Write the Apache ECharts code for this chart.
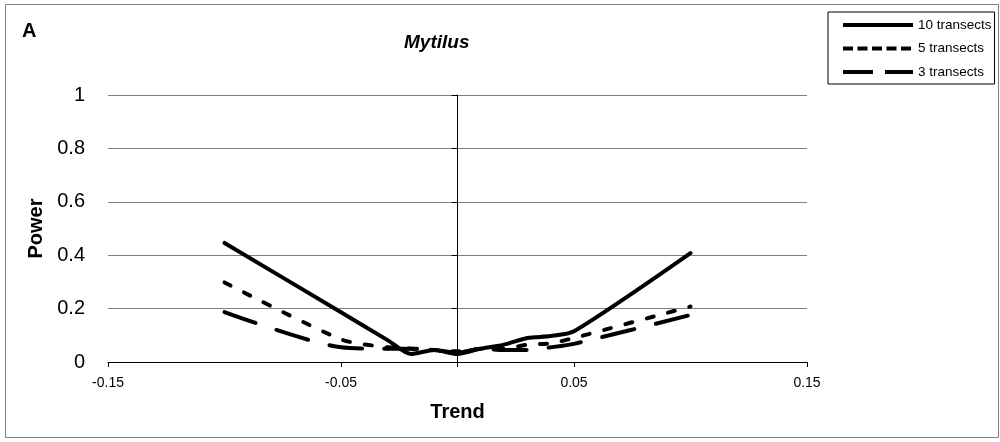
<!DOCTYPE html>
<html><head><meta charset="utf-8">
<script src="https://cdn.jsdelivr.net/npm/echarts@6/dist/echarts.min.js"></script>
<style>html,body{margin:0;padding:0;background:#fff}#c{width:1000px;height:442px}</style>
</head><body><div id="c"></div>
<script>
const trendValues = [-0.1, -0.05, -0.03, -0.02, -0.01, 0, 0.01, 0.02, 0.03, 0.04, 0.05, 0.1];
const power10 = [0.446, 0.186, 0.082, 0.03, 0.045, 0.03, 0.05, 0.065, 0.09, 0.097, 0.115, 0.408];
const power5  = [0.298, 0.085, 0.055, 0.05, 0.045, 0.04, 0.05, 0.05, 0.065, 0.07, 0.09, 0.208];
const power3  = [0.187, 0.055, 0.05, 0.05, 0.045, 0.035, 0.05, 0.045, 0.045, 0.055, 0.068, 0.176];
const seriesNames = ['10 transects', '5 transects', '3 transects'];
const xLabelValues = [-0.15, -0.05, 0.05, 0.15];
const xTickValues = [-0.15, -0.05, 0, 0.05, 0.15];

const pairs = arr => trendValues.map((x, i) => [x, arr[i]]);
const font = 'Liberation Sans, Arial, sans-serif';
const chart = echarts.init(document.getElementById('c'), null, {renderer: 'canvas'});
const chartDash = ['solid', [7, 15], [33, 22]];
const legendDash = [null, [10, 4.5], [30, 12]];
const mkSeries = (i, arr, extra) => Object.assign({
  name: seriesNames[i], type: 'line', data: pairs(arr), symbol: 'none', smooth: 0.25,
  lineStyle: {color: '#000', width: 4, type: chartDash[i], cap: 'round', join: 'round'},
  itemStyle: {color: '#000'}, z: 3
}, extra || {});

// legend sample lines (legend icons hidden; samples drawn beside legend text)
const legendRowsY = [25, 48.5, 72];
const legendSamples = seriesNames.map((n, i) => ({
  type: 'line', z: 10,
  shape: {x1: 843, y1: legendRowsY[i], x2: 913, y2: legendRowsY[i]},
  style: {stroke: '#000', lineWidth: 4, lineDash: legendDash[i], lineCap: 'butt'}
}));

chart.setOption({
  animation: false,
  title: {
    text: 'Mytilus', left: 399, top: 28,
    textStyle: {fontFamily: font, fontSize: 19, fontWeight: 'bold', fontStyle: 'italic', color: '#000'}
  },
  graphic: [
    {type: 'rect', shape: {x: 5.5, y: 4.5, width: 993, height: 433}, style: {fill: null, stroke: '#808080', lineWidth: 1}, z: 0},
    {type: 'text', left: 22, top: 21, style: {text: 'A', font: 'bold 20px ' + font, fill: '#000'}}
  ].concat(legendSamples),
  legend: {
    orient: 'vertical', left: 828, top: 12,
    itemWidth: 70, itemHeight: 14, itemGap: 9.5,
    padding: [6, 3, 5, 15],
    borderColor: '#000', borderWidth: 1,
    textStyle: {fontFamily: font, fontSize: 13.5, color: '#000'},
    data: seriesNames.map(n => ({name: n, icon: 'none'}))
  },
  grid: {left: 108, right: 193, top: 95, bottom: 80},
  xAxis: {
    type: 'value', min: -0.15, max: 0.15, interval: 0.05,
    name: 'Trend', nameLocation: 'middle', nameGap: 40,
    nameTextStyle: {fontFamily: font, fontSize: 20, fontWeight: 'bold', color: '#000'},
    axisLine: {onZero: false, lineStyle: {color: '#000', width: 1}},
    axisTick: {show: true, inside: false, length: 5, customValues: xTickValues, lineStyle: {color: '#000'}},
    axisLabel: {customValues: xLabelValues, margin: 14, fontFamily: font, fontSize: 14, color: '#000',
      formatter: v => String(Math.round(v * 100) / 100)},
    splitLine: {show: false}
  },
  yAxis: {
    type: 'value', min: 0, max: 1, interval: 0.2,
    name: 'Power', nameLocation: 'middle', nameGap: 62, nameRotate: 90,
    nameTextStyle: {fontFamily: font, fontSize: 20, fontWeight: 'bold', color: '#000'},
    axisLine: {show: true, lineStyle: {color: '#000', width: 1}},
    axisTick: {show: true, length: 6, lineStyle: {color: '#000'}},
    axisLabel: {margin: 23, fontFamily: font, fontSize: 20, color: '#000',
      formatter: v => String(Math.round(v * 10) / 10)},
    splitLine: {show: true, lineStyle: {color: '#808080', width: 1}}
  },
  series: [
    mkSeries(0, power10, {
      markLine: {silent: true, symbol: 'none', label: {show: false},
        lineStyle: {color: '#000', width: 1, type: 'solid'}, data: [{xAxis: 0}], z: 1}
    }),
    mkSeries(1, power5),
    mkSeries(2, power3)
  ]
});
</script></body></html>
